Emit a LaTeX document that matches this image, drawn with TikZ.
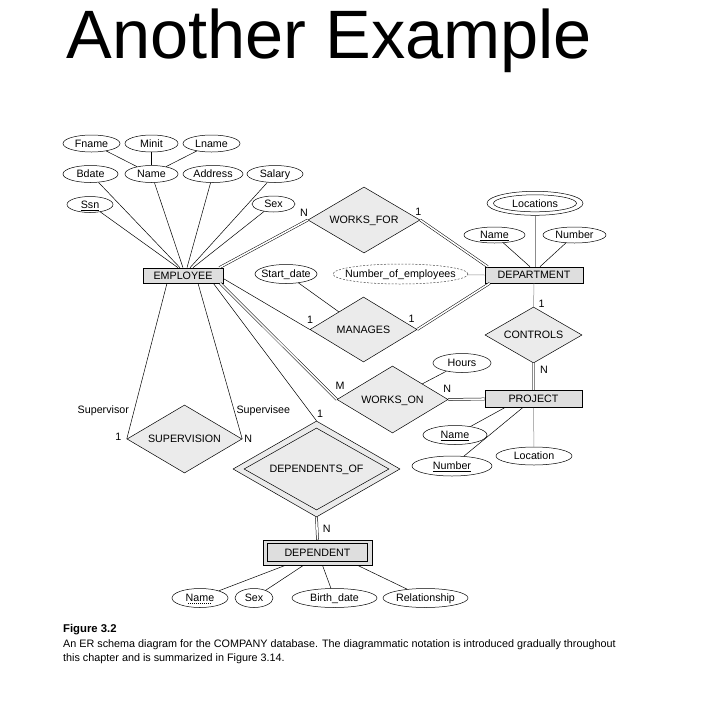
\documentclass[tikz,border=0pt]{standalone}
\usepackage{fontspec}
\setmainfont{Liberation Sans}
\usetikzlibrary{shapes.geometric}
\definecolor{entgray}{HTML}{DEDEDE}
\definecolor{relgray}{HTML}{EBEBEB}
\definecolor{lgray}{HTML}{8C8C8C}
\newcommand\ztx[1]{\makebox[0pt]{#1}}
\begin{document}
\begin{tikzpicture}[x=1pt,y=-1pt,
  txt/.style={font=\fontsize{10.7}{12}\selectfont, text height=7.7pt, text depth=0pt, inner sep=0pt},
  attr/.style={txt, ellipse, draw, fill=white, line width=0.5pt},
  ent/.style={txt, rectangle, draw, fill=entgray, line width=0.6pt},
  rel/.style={txt, diamond, draw, fill=relgray, line width=0.5pt, aspect=1.7},
  conn/.style={line width=0.5pt},
  dbl/.style={double, double distance=1.6pt, line width=0.5pt},
  lbl/.style={txt},
  captxt/.style={anchor=base west, inner sep=0pt, font=\fontsize{10.8}{13}\selectfont},
]
\fill[white] (0,0) rectangle (706,710);
\useasboundingbox (0,0) rectangle (706,710);

% title
\node[anchor=base west, inner sep=0pt, font=\fontsize{68.5}{80}\selectfont] (title) at (66.5,58.3) {Another Example};

% EMPLOYEE and its attributes
\node[ent, minimum width=80pt, minimum height=15pt] (emp) at (183,275.5) {\ztx{EMPLOYEE}};
\node[attr, minimum width=57pt, minimum height=17pt] (fname) at (91.5,143.5) {\ztx{Fname}};
\node[attr, minimum width=53pt, minimum height=17pt] (minit) at (151.5,143.5) {\ztx{Minit}};
\node[attr, minimum width=57pt, minimum height=17pt] (lname) at (211.5,143.5) {\ztx{Lname}};
\node[attr, minimum width=55pt, minimum height=17pt] (bdate) at (90.5,174) {\ztx{Bdate}};
\node[attr, minimum width=53pt, minimum height=17pt] (name) at (151.5,174) {\ztx{Name}};
\node[attr, minimum width=60pt, minimum height=17pt] (addr) at (213,174) {\ztx{Address}};
\node[attr, minimum width=56pt, minimum height=17pt] (salary) at (275,174) {\ztx{Salary}};
\node[attr, minimum width=46pt, minimum height=16pt] (ssn) at (90,204.5) {\ztx{\underline{Ssn}}};
\node[attr, minimum width=43pt, minimum height=16pt] (sex) at (273.5,204) {\ztx{Sex}};

% WORKS_FOR
\node[rel, minimum width=112pt, minimum height=66pt] (wf) at (364,220) {\ztx{WORKS\_FOR}};

% DEPARTMENT
\node[ent, minimum width=98pt, minimum height=16pt] (dept) at (534,275) {\ztx{DEPARTMENT}};
\node[attr, minimum width=96pt, minimum height=24pt] (locs) at (535,203.3) {};
\node[txt, ellipse, draw, line width=0.5pt, minimum width=83pt, minimum height=17pt] (locsin) at (535,203.3) {\ztx{Locations}};
\node[attr, minimum width=61pt, minimum height=16pt] (dname) at (494.5,235) {\ztx{\underline{Name}}};
\node[attr, minimum width=63pt, minimum height=16pt] (dnum) at (574.5,235) {\ztx{Number}};
\node[attr, dashed, dash pattern=on 2pt off 1.5pt, draw=black!70, minimum width=135pt, minimum height=20pt] (noe) at (400.5,274) {\ztx{Number\_of\_employees}};

% MANAGES
\node[attr, minimum width=62pt, minimum height=19pt] (sd) at (286,274) {\ztx{Start\_date}};
\node[rel, minimum width=107pt, minimum height=65pt] (man) at (363.5,329.5) {\ztx{MANAGES}};

% CONTROLS and PROJECT
\node[rel, minimum width=97pt, minimum height=56pt] (ctrl) at (533.5,335) {\ztx{CONTROLS}};
\node[ent, minimum width=97pt, minimum height=17pt] (proj) at (533.5,399) {\ztx{PROJECT}};
\node[rel, minimum width=111pt, minimum height=67pt] (wo) at (392.5,399.5) {\ztx{WORKS\_ON}};
\node[attr, minimum width=58pt, minimum height=19pt] (hours) at (462,363) {\ztx{Hours}};
\node[attr, minimum width=64pt, minimum height=19pt] (pname) at (455,435) {\ztx{\underline{Name}}};
\node[attr, minimum width=80pt, minimum height=20pt] (pnum) at (452,466) {\ztx{\underline{Number}}};
\node[attr, minimum width=76pt, minimum height=18pt] (ploc) at (534,456) {\ztx{Location}};

% SUPERVISION
\node[rel, minimum width=115pt, minimum height=68pt] (sup) at (184.5,439) {\ztx{SUPERVISION}};

% DEPENDENTS_OF and DEPENDENT
\node[rel, minimum width=167pt, minimum height=96pt] (depof) at (316.5,469) {};
\node[rel, minimum width=145pt, minimum height=82pt] (depofin) at (316.5,469) {\ztx{DEPENDENTS\_OF}};
\node[ent, minimum width=109pt, minimum height=25pt] (dep) at (317.5,552.5) {};
\node[ent, minimum width=100pt, minimum height=18pt] (depin) at (317.5,552.5) {\ztx{DEPENDENT}};
\node[attr, minimum width=56pt, minimum height=19pt] (dnm) at (200,598) {\ztx{Name}};
\node[attr, minimum width=38pt, minimum height=19pt] (dsex) at (254,598) {\ztx{Sex}};
\node[attr, minimum width=85pt, minimum height=19pt] (dbirth) at (334.5,598) {\ztx{Birth\_date}};
\node[attr, minimum width=85pt, minimum height=19pt] (drel) at (425.5,598) {\ztx{Relationship}};
\draw[line width=0.4pt, dash pattern=on 1pt off 1pt] ([xshift=-12pt,yshift=-5.3pt]dnm.center) -- ([xshift=12pt,yshift=-5.3pt]dnm.center);

% connectors
\draw[conn] (fname) -- (name);
\draw[conn] (minit) -- (name);
\draw[conn] (lname) -- (name);
\draw[conn] (ssn) -- ([xshift=-5pt]emp.north);
\draw[conn] (bdate) -- ([xshift=-3pt]emp.north);
\draw[conn] (name) -- (emp.north);
\draw[conn] (addr) -- ([xshift=4pt]emp.north);
\draw[conn] (salary) -- ([xshift=7pt]emp.north);
\draw[conn] (sex) -- ([xshift=10pt]emp.north);

\draw[dbl] ([xshift=-4pt]emp.north east) -- (wf.west);
\draw[dbl] (wf.east) -- ([xshift=3pt]dept.north west);
\draw[conn] ([yshift=-3pt]emp.east) -- (man.west);
\draw[conn] (sd) -- (man);
\draw[dbl] (man.east) -- ([xshift=5pt]dept.south west);
\draw[conn, draw=lgray] (noe) -- (dept.west);
\draw[conn, draw=lgray] (locs.south) -- (locs.south |- dept.north);
\draw[conn] (dname) -- ([xshift=-4pt]dept.north);
\draw[conn] (dnum) -- ([xshift=6pt]dept.north);
\draw[conn, draw=lgray] (dept.south) -- (ctrl.north);
\draw[dbl, draw=lgray] (ctrl.south) -- (proj.north);
\draw[dbl] ([xshift=-3pt]emp.south east) -- (wo.west);
\draw[dbl] (wo.east) -- (proj.west);
\draw[conn] (hours) -- (wo);
\draw[conn] (pname) -- ([xshift=-29pt]proj.south);
\draw[conn] (pnum) -- ([xshift=-11pt]proj.south);
\draw[conn, draw=lgray] (ploc) -- (proj.south);
\draw[conn] ([xshift=-16pt]emp.south) -- (sup.west);
\draw[conn] ([xshift=15pt]emp.south) -- (sup.east);
\draw[conn] ([xshift=-10pt]emp.south east) -- (depof.north);
\draw[dbl] (depof.south) -- (dep.north);
\draw[conn] (dnm) -- ([xshift=-32pt]dep.south);
\draw[conn] (dsex) -- ([xshift=-14pt]dep.south);
\draw[conn] (dbirth) -- ([xshift=5pt]dep.south);
\draw[conn] (drel) -- ([xshift=40pt]dep.south);

% cardinality and role labels
\node[lbl] (l1) at (304,213) {N};
\node[lbl] (l2) at (418.3,211.7) {1};
\node[lbl] (l3) at (310,320) {1};
\node[lbl] (l4) at (411.7,318.3) {1};
\node[lbl] (l5) at (541.7,303.3) {1};
\node[lbl] (l6) at (544,370) {N};
\node[lbl] (l7) at (340,386) {M};
\node[lbl] (l8) at (447.3,388.3) {N};
\node[lbl] (l9) at (320,413.3) {1};
\node[lbl] (l10) at (103.3,409.3) {Supervisor};
\node[lbl] (l11) at (263.3,409.3) {Supervisee};
\node[lbl] (l12) at (118.3,436.7) {1};
\node[lbl] (l13) at (248.3,438.3) {N};
\node[lbl] (l14) at (326.7,528.3) {N};

% caption
\node[captxt, font=\bfseries\fontsize{11.3}{13}\selectfont] (c1) at (63,632) {Figure 3.2};
\node[captxt] (c2) at (63,647.5) {An ER schema diagram for the COMPANY database. The diagrammatic notation is introduced gradually throughout};
\node[captxt] (c3) at (63,661) {this chapter and is summarized in Figure 3.14.};
\end{tikzpicture}
\end{document}
